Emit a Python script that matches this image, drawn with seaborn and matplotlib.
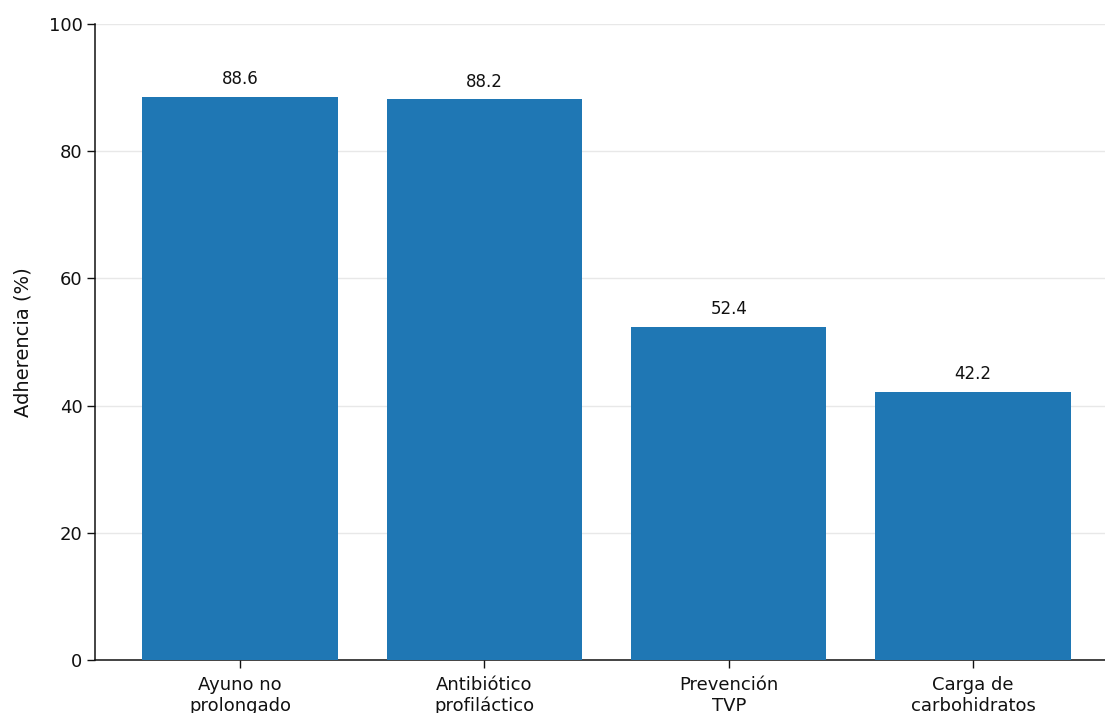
import matplotlib
matplotlib.use("Agg")
import matplotlib.pyplot as plt
import seaborn as sns
import pandas as pd

categorias = ["Ayuno no\nprolongado", "Antibiótico\nprofiláctico", "Prevención\nTVP", "Carga de\ncarbohidratos"]
adherencia = [88.6, 88.2, 52.4, 42.2]

df = pd.DataFrame({"componente": categorias, "adherencia": adherencia})

sns.set_style("white")
plt.rcParams["font.family"] = ["DejaVu Sans"]

W, H = 1105, 713
fig = plt.figure(figsize=(W / 100, H / 100), dpi=100)
ax = fig.add_axes([95 / W, 1 - 660 / H, (1105 - 95) / W, (660 - 24) / H])

sns.barplot(data=df, x="componente", y="adherencia", color="#1f77b4",
            saturation=1, width=0.8, linewidth=0, ax=ax, zorder=3)

for i, v in enumerate(adherencia):
    ax.text(i, v + 1.3, f"{v:.1f}", ha="center", va="bottom", fontsize=12, color="#111111")

ax.set_ylim(0, 100)
ax.set_xlim(-0.594, 3.54)
ax.set_yticks([0, 20, 40, 60, 80, 100])
ax.yaxis.grid(True, color="#e8e8e8", linewidth=1, zorder=0)
ax.set_axisbelow(True)
ax.set_xlabel("")
ax.set_ylabel("Adherencia (%)", fontsize=14, color="#111111")
ax.yaxis.set_label_coords(-0.062, 0.5)
ax.tick_params(axis="both", labelsize=13, length=5.5, width=1, color="#111111",
               labelcolor="#111111", bottom=True, left=True)
ax.tick_params(axis="x", pad=6)
sns.despine(ax=ax)
for s in ("left", "bottom"):
    ax.spines[s].set_color("#111111")
    ax.spines[s].set_linewidth(1.1)

fig.savefig("out.png", dpi=100)
